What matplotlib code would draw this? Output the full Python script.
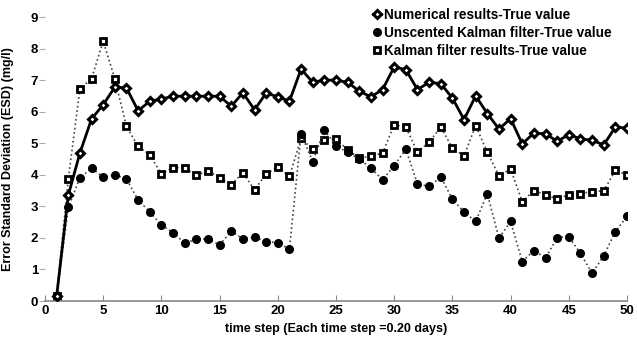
import matplotlib
matplotlib.use("Agg")
import matplotlib.pyplot as plt

steps = list(range(1, 51))

numerical = [0.15, 3.35, 4.69, 5.77, 6.22, 6.78, 6.75, 6.03, 6.33, 6.4,
             6.49, 6.49, 6.49, 6.49, 6.49, 6.17, 6.6, 6.06, 6.59, 6.47,
             6.33, 7.35, 6.93, 7.0, 7.0, 6.93, 6.65, 6.47, 6.7, 7.42,
             7.33, 6.7, 6.93, 6.89, 6.43, 5.75, 6.5, 5.94, 5.45, 5.78,
             4.98, 5.32, 5.3, 5.06, 5.27, 5.14, 5.09, 4.95, 5.51, 5.48]

ukf = [0.15, 2.97, 3.9, 4.21, 3.92, 4.0, 3.87, 3.2, 2.82, 2.41,
       2.17, 1.83, 1.96, 1.96, 1.78, 2.21, 1.97, 2.02, 1.88, 1.85,
       1.64, 5.3, 4.42, 5.41, 4.92, 4.71, 4.5, 4.21, 3.84, 4.29,
       4.81, 3.71, 3.63, 3.93, 3.23, 2.82, 2.52, 3.4, 1.99, 2.52,
       1.25, 1.6, 1.36, 2.01, 2.04, 1.51, 0.88, 1.43, 2.2, 2.68]

kalman = [0.15, 3.86, 6.72, 7.05, 8.23, 7.04, 5.53, 4.9, 4.63, 4.03,
          4.23, 4.22, 3.98, 4.13, 3.9, 3.68, 4.07, 3.52, 4.03, 4.24,
          3.95, 5.15, 4.81, 5.11, 5.13, 4.79, 4.53, 4.58, 4.69, 5.59,
          5.51, 4.72, 5.03, 5.51, 4.85, 4.6, 5.56, 4.71, 3.97, 4.18,
          3.15, 3.5, 3.37, 3.23, 3.37, 3.4, 3.47, 3.49, 4.14, 4.0]

labels = ["Numerical results-True value",
          "Unscented Kalman filter-True value",
          "Kalman filter results-True value"]

xticks = [0, 5, 10, 15, 20, 25, 30, 35, 40, 45, 50]
yticks = list(range(0, 10))

plt.rcParams['font.family'] = ['Liberation Sans', 'DejaVu Sans']
plt.rcParams['font.weight'] = 'bold'

fig = plt.figure(figsize=(6.37, 3.43), dpi=100)
ax = fig.add_axes([45/637, 1 - 301/343, (627-45)/637, (301-17)/343])

ax.plot(steps, kalman, linestyle=':', color='#444444', lw=1.2,
        marker='s', ms=4.5, mfc='white', mec='black', mew=2, label=labels[2], zorder=2)
ax.plot(steps, ukf, linestyle=':', color='#444444', lw=1.2,
        marker='o', ms=5.5, mfc='black', mec='black', label=labels[1], zorder=3)
ax.plot(steps, numerical, linestyle='-', color='black', lw=2,
        marker='D', ms=4, mfc='white', mec='black', mew=2.2, label=labels[0], zorder=4)

ax.set_xlim(0, 50)
ax.set_ylim(0, 9)
ax.set_xticks(xticks)
ax.set_yticks(yticks)
ax.tick_params(axis='x', direction='in', length=4, color='#888888', labelsize=9.5, pad=3)
ax.tick_params(axis='y', direction='out', length=4, color='#aaaaaa', labelsize=9.5, pad=1)
for lab in ax.get_xticklabels() + ax.get_yticklabels():
    lab.set_fontweight('bold')
for s in ['top', 'right', 'left']:
    ax.spines[s].set_visible(False)
ax.spines['bottom'].set_color('#888888')
ax.spines['bottom'].set_linewidth(1.2)

ax.set_xlabel("time step (Each time step =0.20 days)", fontsize=9, fontweight='bold', labelpad=4)
ax.set_ylabel("Error Standard Deviation (ESD) (mg/l)", fontsize=9, fontweight='bold', labelpad=12)

h, l = ax.get_legend_handles_labels()
order = [2, 1, 0]
leg = ax.legend([h[i] for i in order], [l[i] for i in order], loc='upper left',
                bbox_to_anchor=(316/582, 1.075), frameon=False,
                handlelength=0.6, handletextpad=0.2, labelspacing=0.3,
                prop={'weight': 'bold', 'size': 9.8})

fig.savefig("out.png", dpi=100)
